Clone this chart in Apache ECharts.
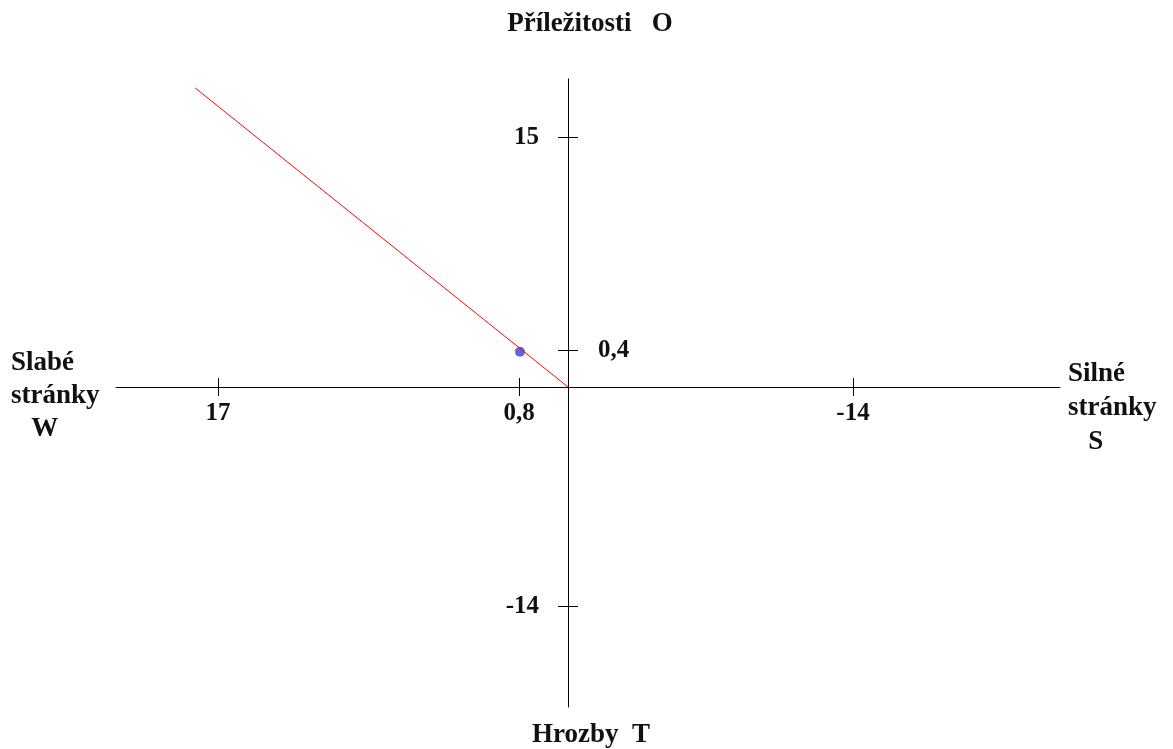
<!DOCTYPE html>
<html>
<head>
<meta charset="utf-8">
<script src="https://cdn.jsdelivr.net/npm/echarts@6/dist/echarts.min.js"></script>
<style>
  html, body { margin: 0; padding: 0; background: #fff; }
  #chart { width: 1173px; height: 749px; }
</style>
</head>
<body>
<div id="chart"></div>
<script>
// tick positions as drawn (axis units), with the labels printed at them
var xTickPos = [17.5, 2.45, -14.25];
var xTickLabels = ["17", "0,8", "-14"];
var yTickPos = [15.6, 2.3, -13.7];
var yTickLabels = ["15", "0,4", "-14"];

// the plotted point and the red line from the origin
var pointData = [[2.4, 2.2]];
var lineData = [[0, 0], [18.65, 18.7]];

var FONT = "'Liberation Serif', 'Times New Roman', serif";

function lookup(pos, labels) {
  return function (v) {
    var best = 0;
    for (var i = 1; i < pos.length; i++) {
      if (Math.abs(pos[i] - v) < Math.abs(pos[best] - v)) best = i;
    }
    return labels[best];
  };
}

var myChart = echarts.init(document.getElementById("chart"));

var axisLine = { color: "#000", width: 1 };
var labelFont = { color: "#111", fontFamily: FONT, fontWeight: "bold", fontSize: 25 };
var titleFont = { color: "#111", fontFamily: FONT, fontWeight: "bold", fontSize: 27 };

// grid box and where the cross sits inside it
var G = { left: 116, right: 113, top: 79, bottom: 42 };
var crossX = 568, crossY = 387;
var gridRight = 1173 - G.right, gridBottom = 749 - G.bottom;

myChart.setOption({
  animation: false,
  title: [
    { text: "Příležitosti   O", left: 590, top: 11, textAlign: "center", padding: 0, textStyle: titleFont },
    { text: "Hrozby  T", left: 591, top: 722, textAlign: "center", padding: 0, textStyle: titleFont },
    { text: "Slabé\nstránky\n   W", left: 11, top: 347, padding: 0,
      textStyle: Object.assign({ lineHeight: 33 }, titleFont) },
    { text: "Silné\nstránky\n   S", left: 1068, top: 357, padding: 0,
      textStyle: Object.assign({ lineHeight: 34 }, titleFont) }
  ],
  grid: {
    left: G.left,
    right: G.right,
    top: G.top,
    bottom: G.bottom,
    outerBoundsMode: "none"
  },
  xAxis: [
    {
      type: "value",
      inverse: true,
      min: -24.6,
      max: 22.6,
      position: "bottom",
      offset: -(gridBottom - crossY),
      axisLine: { onZero: false, lineStyle: axisLine },
      splitLine: { show: false },
      axisTick: { customValues: xTickPos, length: 9, lineStyle: axisLine },
      axisLabel: Object.assign({
        customValues: xTickPos,
        margin: 14,
        formatter: lookup(xTickPos, xTickLabels)
      }, labelFont)
    },
    {
      type: "value",
      inverse: true,
      min: -24.6,
      max: 22.6,
      position: "top",
      offset: -(crossY - G.top),
      axisLine: { show: false, onZero: false },
      splitLine: { show: false },
      axisTick: { customValues: xTickPos, length: 9, lineStyle: axisLine },
      axisLabel: { show: false }
    }
  ],
  yAxis: [
    {
      type: "value",
      min: -20,
      max: 19.25,
      position: "left",
      offset: -(crossX - G.left),
      axisLine: { onZero: false, lineStyle: axisLine },
      splitLine: { show: false },
      axisTick: { customValues: yTickPos, length: 10, lineStyle: axisLine },
      axisLabel: Object.assign({
        customValues: [yTickPos[0], yTickPos[2]],
        margin: 29,
        formatter: lookup(yTickPos, yTickLabels)
      }, labelFont)
    },
    {
      type: "value",
      min: -20,
      max: 19.25,
      position: "right",
      offset: -(gridRight - crossX),
      axisLine: { show: false, onZero: false },
      splitLine: { show: false },
      axisTick: { customValues: yTickPos, length: 10, lineStyle: axisLine },
      axisLabel: Object.assign({
        customValues: [yTickPos[1]],
        margin: 30,
        formatter: lookup(yTickPos, yTickLabels)
      }, labelFont)
    }
  ],
  series: [
    {
      type: "line",
      xAxisIndex: 0,
      yAxisIndex: 0,
      data: lineData,
      showSymbol: false,
      silent: true,
      lineStyle: { color: "#ff0000", width: 1 }
    },
    {
      type: "scatter",
      xAxisIndex: 0,
      yAxisIndex: 0,
      data: pointData,
      symbolSize: 10,
      itemStyle: { color: "#3c3cd0" }
    }
  ]
});

window.addEventListener("resize", function () {
  myChart.resize();
});
</script>
</body>
</html>
